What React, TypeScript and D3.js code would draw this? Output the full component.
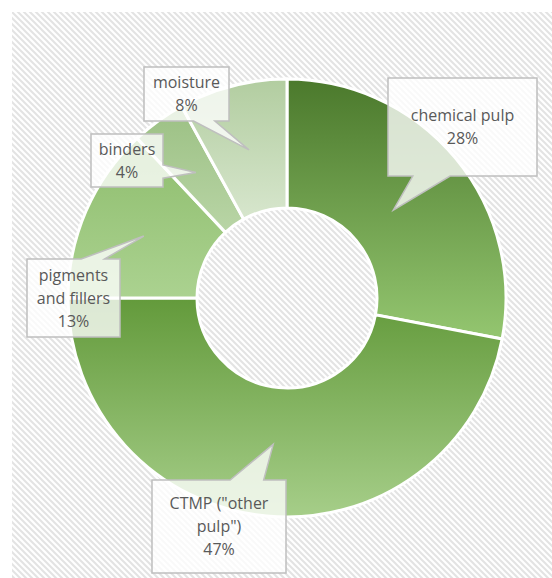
import * as d3 from "d3";

// composition of the board (share in %)
const categories = ["chemical pulp", "CTMP (\"other pulp\")", "pigments and fillers", "binders", "moisture"];
const values = [28, 47, 13, 4, 8];
// how each category name is wrapped inside its callout
const labelLines = [
  ["chemical pulp"],
  ["CTMP (\"other", "pulp\")"],
  ["pigments", "and fillers"],
  ["binders"],
  ["moisture"],
];
// vertical gradient per slice: [top, bottom]
const sliceColors = [
  ["#4b792c", "#94c670"],
  ["#639a3b", "#a6ce89"],
  ["#8ebd6d", "#abd290"],
  ["#9bc083", "#b9d5a6"],
  ["#b2cda0", "#d7e6cd"],
];

const W = 552;
const H = 578;
const cx = 287;
const cy = 298;
const outerR = 219;
const innerR = 90;

// callout boxes, centre relative to the donut centre
const callouts = [
  { dx: 175.5, dy: -171, w: 149, h: 98, tipR: 138 },
  { dx: -68, dy: 228.5, w: 134, h: 93, tipR: 147 },
  { dx: -213.5, dy: 0, w: 93, h: 78, tipR: 156 },
  { dx: -160, dy: -137.5, w: 72, h: 53, tipR: 155 },
  { dx: -100.5, dy: -204, w: 85, h: 54, tipR: 153 },
];

function calloutPath(x0: number, y0: number, w: number, h: number, tx: number, ty: number) {
  const x1 = x0 + w;
  const y1 = y0 + h;
  const mx = x0 + w / 2;
  const my = y0 + h / 2;
  const nx = (tx - mx) / w;
  const ny = (ty - my) / h;
  if (Math.abs(ny) >= Math.abs(nx)) {
    const [f1, f2] = tx < mx ? [1 / 6, 5 / 12] : [7 / 12, 5 / 6];
    const b1 = x0 + f1 * w;
    const b2 = x0 + f2 * w;
    if (ny > 0) {
      return `M${x0},${y0}H${x1}V${y1}H${b2}L${tx},${ty}L${b1},${y1}H${x0}Z`;
    }
    return `M${x0},${y0}H${b1}L${tx},${ty}L${b2},${y0}H${x1}V${y1}H${x0}Z`;
  }
  const [f1, f2] = ty < my ? [1 / 6, 5 / 12] : [7 / 12, 5 / 6];
  const b1 = y0 + f1 * h;
  const b2 = y0 + f2 * h;
  if (nx > 0) {
    return `M${x0},${y0}H${x1}V${b1}L${tx},${ty}L${x1},${b2}V${y1}H${x0}Z`;
  }
  return `M${x0},${y0}H${x1}V${y1}H${x0}V${b2}L${tx},${ty}L${x0},${b1}Z`;
}

export default function App() {
  const total = d3.sum(values);
  const pie = d3.pie<number>().sort(null).value((d) => d);
  const arcs = pie(values);
  const arc = d3.arc<d3.PieArcDatum<number>>().innerRadius(innerR).outerRadius(outerR);

  return (
    <svg
      width={W}
      height={H}
      style={{ position: "absolute", left: 0, top: 0, display: "block" }}
      fontFamily="'Open Sans', sans-serif"
    >
      <defs>
        <pattern id="hatch" patternUnits="userSpaceOnUse" width={6} height={6}>
          <rect width={6} height={6} fill="#ffffff" />
          <path d="M-1,-1L7,7M-4,2L2,8M4,-2L8,2" stroke="#e3e3e3" strokeWidth={2} />
        </pattern>
        {sliceColors.map((c, i) => (
          <linearGradient key={i} id={`slice${i}`} x1="0" y1="0" x2="0" y2="1">
            <stop offset="0%" stopColor={c[0]} />
            <stop offset="100%" stopColor={c[1]} />
          </linearGradient>
        ))}
      </defs>
      <rect x={0} y={0} width={W} height={H} fill="#ffffff" />
      <rect x={12} y={12} width={W - 12} height={H - 12} fill="url(#hatch)" />

      <g transform={`translate(${cx},${cy})`}>
        {arcs.map((a, i) => (
          <path key={i} d={arc(a) ?? ""} fill={`url(#slice${i})`} stroke="#ffffff" strokeWidth={3} />
        ))}
      </g>

      {arcs.map((a, i) => {
        const c = callouts[i];
        const mid = (a.startAngle + a.endAngle) / 2;
        const tx = cx + c.tipR * Math.sin(mid);
        const ty = cy - c.tipR * Math.cos(mid);
        const bx = cx + c.dx - c.w / 2;
        const by = cy + c.dy - c.h / 2;
        const lines = [...labelLines[i], `${Math.round((values[i] / total) * 100)}%`];
        const lh = 23;
        const firstY = cy + c.dy - ((lines.length - 1) * lh) / 2;
        return (
          <g key={categories[i]}>
            <path
              d={calloutPath(bx, by, c.w, c.h, tx, ty)}
              fill="#ffffff"
              fillOpacity={0.78}
              stroke="#bfbfbf"
              strokeWidth={1.5}
            />
            <text
              x={cx + c.dx}
              textAnchor="middle"
              fill="#595959"
              fontSize={16}
            >
              {lines.map((t, j) => (
                <tspan key={j} x={cx + c.dx} y={firstY + j * lh} dy="0.35em">
                  {t}
                </tspan>
              ))}
            </text>
          </g>
        );
      })}
    </svg>
  );
}
